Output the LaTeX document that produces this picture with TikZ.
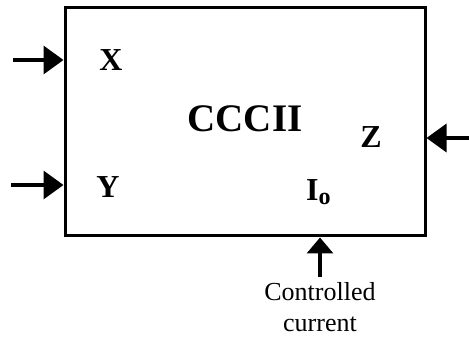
\documentclass[tikz,border=0pt]{standalone}
\usepackage{fontspec}
\setmainfont{Liberation Serif}
\usetikzlibrary{positioning,arrows.meta}

\begin{document}
\begin{tikzpicture}[
    x=1pt, y=-1pt,
    block/.style={
        draw,
        line width=3pt,
        minimum width=360pt,
        minimum height=228pt,
        inner sep=0pt
    },
    title/.style={
        font=\fontsize{39}{39}\selectfont\bfseries,
        inner sep=0pt
    },
    port/.style={
        font=\fontsize{32}{32}\selectfont\bfseries,
        inner sep=0pt
    },
    caption/.style={
        font=\fontsize{26}{31}\selectfont,
        align=center,
        inner sep=0pt
    },
    arrow/.style={
        line width=3.5pt,
        -{Triangle[length=20pt,width=28pt]}
    }
]
    \useasboundingbox (0,0) rectangle (469,344);

    % 1. Conveyor block
    \node[block] (cccii) at (245,122) {};
    \node[title] (name) at (245,119) {CCCII};

    % 2. Terminals
    \node[port] (xport) at (111,60) {X};
    \node[port] (yport) at (108,187) {Y};
    \node[port] (zport) at (371,137) {Z};
    \node[port, anchor=base west] (iport) at (306,201)
        {I\raisebox{-4pt}{\fontsize{24}{24}\selectfont o}};

    % 3. Free ends of the arrows
    \coordinate (xin) at (13,60);
    \coordinate (yin) at (11,185);
    \coordinate (zin) at (469,138);
    \coordinate (ctrl) at (320,277);

    \node[caption, below=5pt of ctrl] (ctrltext) {Controlled\\current};

    % Connections
    \draw[arrow] (xin) -- (xin -| cccii.west);
    \draw[arrow] (yin) -- (yin -| cccii.west);
    \draw[arrow] (zin) -- (zin -| cccii.east);
    \draw[arrow, -{Triangle[length=16pt,width=26pt]}] (ctrl) -- (ctrl |- cccii.south);

\end{tikzpicture}
\end{document}
